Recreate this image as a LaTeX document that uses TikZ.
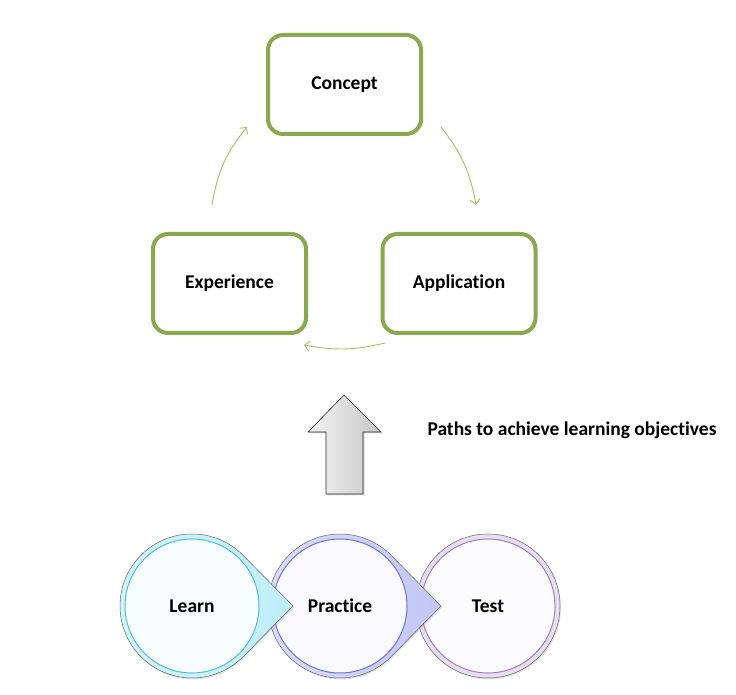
\documentclass[tikz,border=0pt]{standalone}
\usepackage{fontspec}
\setmainfont{Carlito}[Ligatures=NoCommon]
\usetikzlibrary{arrows.meta,shadows,calc}

\definecolor{boxgreen}{HTML}{8AA84E}
\definecolor{arcgreen}{HTML}{A3C063}
\definecolor{learnring}{HTML}{D6F3FA}
\definecolor{learntip}{HTML}{BDEEFA}
\definecolor{learnline}{HTML}{4DBFD6}
\definecolor{learnfill}{HTML}{F7FDFE}
\definecolor{practring}{HTML}{DCDEF7}
\definecolor{practtip}{HTML}{C2C6F4}
\definecolor{practline}{HTML}{6E73D8}
\definecolor{practfill}{HTML}{F9F9FE}
\definecolor{testring}{HTML}{E8DEF0}
\definecolor{testline}{HTML}{9F7DC2}
\definecolor{testfill}{HTML}{FCFBFE}

\begin{document}
\begin{tikzpicture}[x=1pt,y=1pt,
  box/.style={draw=boxgreen,line width=4pt,rounded corners=15pt,fill=white,
    minimum width=153pt,minimum height=99pt,font=\bfseries\fontsize{19.5}{22}\selectfont,
    drop shadow={opacity=0.25,shadow xshift=1.5pt,shadow yshift=-1.5pt}},
  cyclearrow/.style={draw=arcgreen,line width=0.9pt,-{Straight Barb[length=5pt,width=10pt]}},
  ring/.style={draw=black!60,line width=0.5pt,
    drop shadow={opacity=0.25,shadow xshift=1pt,shadow yshift=-1.5pt}},
  stage/.style={circle,minimum size=134pt,inner sep=0pt,line width=1pt,
    font=\bfseries\fontsize{19.5}{22}\selectfont},
  label/.style={font=\bfseries\fontsize{19.5}{22}\selectfont}]
\useasboundingbox (0,0) rectangle (736,695);

% learning cycle
\node[box] (concept) at (344.5,610.5) {Concept};
\node[box] (experience) at (229.5,411.5) {Experience};
\node[box] (application) at (459,411.5) {Application};

\coordinate (c1) at (441,568);
\coordinate (c2) at (476,490);
\coordinate (c3) at (385,352);
\coordinate (c4) at (304,350);
\coordinate (c5) at (212,490);
\coordinate (c6) at (247,568);
\draw[cyclearrow] (c1) to[bend left=14] (c2);
\draw[cyclearrow] (c3) to[bend left=12] (c4);
\draw[cyclearrow] (c5) to[bend left=15] (c6);

% big arrow
\draw[black!85,line width=0.6pt,left color=gray!8,right color=gray!45,
  drop shadow={opacity=0.3,shadow xshift=1.5pt,shadow yshift=-1.5pt}]
  (326,201) -- (326,263) -- (308,263) -- (344,300) -- (381,263)
  -- (363,263) -- (363,201) -- cycle;
\node[label,anchor=west] (paths) at (424,265) {Paths to achieve learning objectives};

% learn, practice, test
\coordinate (l) at (192,89);
\coordinate (p) at (340,89);
\coordinate (t) at (488,89);

\draw[ring,fill=testring] (t) circle[radius=72];
\node[stage,draw=testline,fill=testfill] (test) at (t) {Test};

\draw[ring,left color=practring,right color=practtip]
  ($(p)+(44.5:72)$) arc[start angle=44.5,end angle=315.5,radius=72]
  -- ($(p)+(101,0)$) -- cycle;
\node[stage,draw=practline,fill=practfill] (practice) at (p) {Practice};

\draw[ring,left color=learnring,right color=learntip]
  ($(l)+(44.5:72)$) arc[start angle=44.5,end angle=315.5,radius=72]
  -- ($(l)+(101,0)$) -- cycle;
\node[stage,draw=learnline,fill=learnfill] (learn) at (l) {Learn};
\end{tikzpicture}
\end{document}
